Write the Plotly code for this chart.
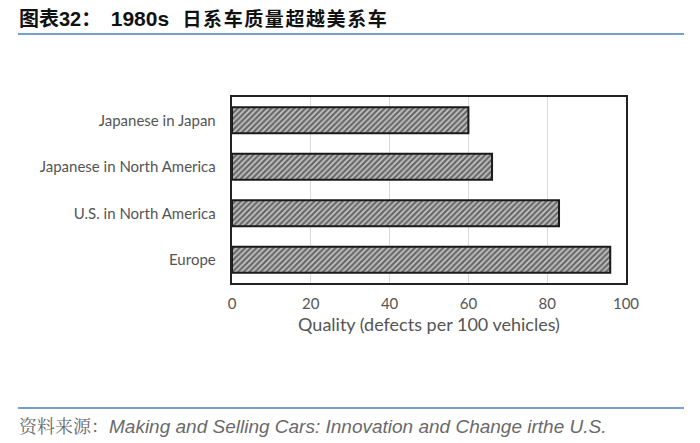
import plotly.graph_objects as go

categories = ["Japanese in Japan", "Japanese in North America", "U.S. in North America", "Europe"]
defects = [60, 66, 83, 96]
tick_vals = [0, 20, 40, 60, 80, 100]

OFF = 8  # page body margin offset
W, H = 700 - OFF, 443 - OFF
L, R, T, B = 232 - OFF, 74, 97 - OFF, 160
pw = W - L - R
ph = H - T - B

def px_x(x):
    return (x - OFF - L) / pw

def px_y(y):
    return (H - B - (y - OFF)) / ph

title_chars = "日系车质量超越美系车"
title_text = ("<b><span style='font-size:20px'>图表32：</span>&#8194;"
              "<span style='font-size:21px'>1980s</span>&#8194;&#8201;"
              + "&#8202;".join(title_chars) + "</b>")
src_text = ("<span style='font-family:Noto Serif CJK SC, Noto Sans CJK SC;font-size:18px'>资料来源：</span>"
            "<i>Making and Selling Cars: Innovation and Change irthe U.S.</i>")

fig = go.Figure(go.Bar(
    y=categories, x=defects, orientation="h", width=0.56,
    marker=dict(color="#d0d0d0",
                line=dict(color="#1a1a1a", width=2),
                pattern=dict(shape="/", fgcolor="#0a0a0a", bgcolor="#c8c8c8", size=4, solidity=0.6)),
))

fig.update_layout(
    width=W, height=H,
    margin=dict(l=L, r=R, t=T, b=B),
    paper_bgcolor="white", plot_bgcolor="white",
    showlegend=False,
    font=dict(family="Lato, sans-serif", color="#555555"),
    xaxis=dict(range=[0, 100], tickvals=tick_vals, showgrid=True, gridcolor="#d9d9d9",
               gridwidth=1, showline=True, linecolor="#222222", linewidth=1.5, mirror=True,
               zeroline=False, ticks="", tickfont=dict(size=15, color="#555555"),
               ticklabelstandoff=6,
               title=dict(text="Quality (defects per 100 vehicles)", font=dict(size=18, color="#555555"), standoff=8)),
    yaxis=dict(categoryorder="array", categoryarray=categories[::-1], showline=True,
               linecolor="#222222", linewidth=1.5, mirror=True, ticks="",
               tickfont=dict(size=15, color="#555555"), ticksuffix="   ", range=[-0.5, 3.5]),
    shapes=[
        dict(type="line", xref="paper", yref="paper", x0=px_x(18), x1=px_x(684), y0=px_y(34), y1=px_y(34),
             line=dict(color="#4a7ebb", width=1.5)),
        dict(type="line", xref="paper", yref="paper", x0=px_x(18), x1=px_x(684), y0=px_y(408), y1=px_y(408),
             line=dict(color="#4a7ebb", width=1.5)),
    ],
    annotations=[
        dict(xref="paper", yref="paper", x=px_x(17), y=px_y(19), xanchor="left", yanchor="middle",
             showarrow=False, text=title_text,
             font=dict(family="Liberation Sans, Noto Sans CJK SC", size=19, color="#111111")),
        dict(xref="paper", yref="paper", x=px_x(17), y=px_y(425), xanchor="left", yanchor="middle",
             showarrow=False, text=src_text,
             font=dict(family="Liberation Sans, Noto Sans CJK SC", size=19, color="#6a6a6a")),
    ],
)

fig.write_html("out.html")
